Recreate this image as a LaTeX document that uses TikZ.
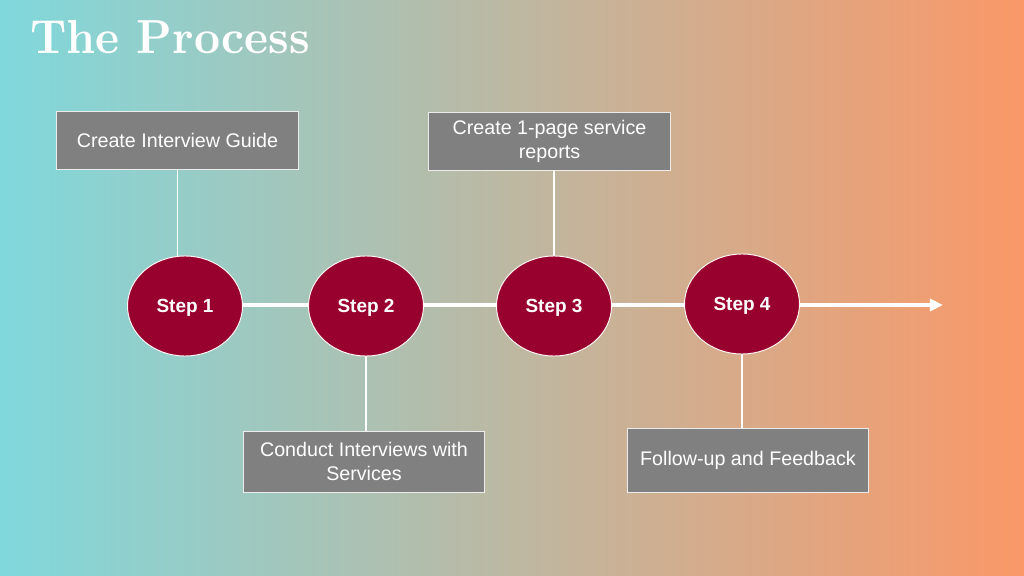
\documentclass[tikz,border=0pt]{standalone}
\usepackage{fontspec}
\setmainfont{Liberation Sans}
\newfontfamily\titlefont{lmroman10-bold.otf}
\usetikzlibrary{shapes.geometric,arrows.meta,backgrounds}

\definecolor{bgleft}{RGB}{128,216,220}
\definecolor{bgmid}{RGB}{196,186,160}
\definecolor{bgright}{RGB}{250,152,104}
\definecolor{stepred}{RGB}{152,0,46}
\definecolor{boxgray}{RGB}{128,128,128}

\tikzset{
	stepnode/.style={ellipse,fill=stepred,draw=white!85!pink,line width=0.7pt,
		minimum width=2.875cm,minimum height=2.5cm,inner sep=0pt,text depth=0pt,
		text=white,font=\fontsize{13.5}{16}\selectfont\bfseries},
	boxnode/.style={rectangle,fill=boxgray,draw=white!85!gray,line width=0.7pt,
		minimum width=6.025cm,align=center,inner sep=0pt,
		text=white,font=\fontsize{14}{17}\selectfont},
	link/.style={draw=white,line width=1.4pt},
	mainline/.style={draw=white,line width=3.5pt}
}

\begin{document}
\begin{tikzpicture}[x=0.025cm,y=-0.025cm]
	\useasboundingbox (0,0) rectangle (1024,576);

	%Title
	\node[anchor=base west,inner sep=0pt,text=white,xscale=0.95] at (30,54) (title)
		{\titlefont\fontsize{34}{40}\selectfont The Process};

	%Steps
	\node[stepnode] at (185,306) (s1) {Step 1};
	\node[stepnode] at (366,306) (s2) {Step 2};
	\node[stepnode] at (554,306) (s3) {Step 3};
	\node[stepnode] at (742,304) (s4) {Step 4};
	\coordinate (tip) at (943,305);

	%Boxes
	\node[boxnode,minimum height=1.425cm] at (177.5,140.5) (b1) {Create Interview Guide};
	\node[boxnode,minimum height=1.425cm] at (549.5,141.5) (b3) {Create 1-page service\\reports};
	\node[boxnode,minimum height=1.525cm] at (364,461.5) (b2) {Conduct Interviews with\\Services};
	\node[boxnode,minimum height=1.6cm] at (748,460) (b4) {Follow-up and Feedback};

	\begin{scope}[on background layer]
		%Background
		\shade[left color=bgleft,middle color=bgmid,right color=bgright] (0,0) rectangle (1024,576);

		%Timeline
		\draw[mainline,-{Triangle[length=0.33cm,width=0.3cm]}] (s1 |- tip) -- (tip);

		%Links
		\draw[link] (b1.south) -- (b1.south |- s1.center);
		\draw[link] (b3.south -| s3.center) -- (s3.center);
		\draw[link] (s2.center) -- (s2.center |- b2.north);
		\draw[link] (s4.center) -- (s4.center |- b4.north);
	\end{scope}
\end{tikzpicture}
\end{document}
